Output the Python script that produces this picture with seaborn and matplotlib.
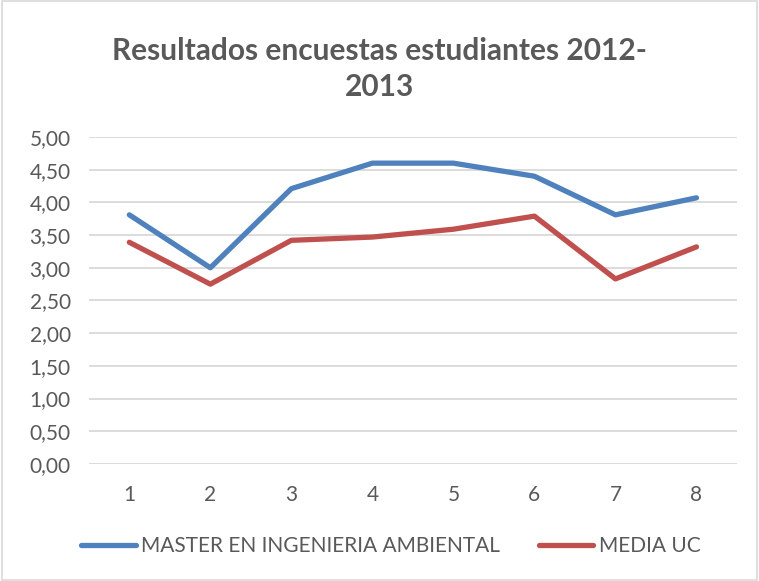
import matplotlib
matplotlib.use("Agg")
import matplotlib.pyplot as plt
import seaborn as sns
import pandas as pd
from matplotlib.lines import Line2D
from matplotlib.patches import Rectangle

categories = [1, 2, 3, 4, 5, 6, 7, 8]
master = [3.81, 3.00, 4.21, 4.60, 4.60, 4.40, 3.81, 4.07]
media_uc = [3.39, 2.75, 3.42, 3.47, 3.59, 3.79, 2.83, 3.32]
series_names = ["MASTER EN INGENIERIA AMBIENTAL", "MEDIA UC"]
y_ticks = [0.0, 0.5, 1.0, 1.5, 2.0, 2.5, 3.0, 3.5, 4.0, 4.5, 5.0]
title = "Resultados encuestas estudiantes 2012-\n2013"

sns.set_theme(style="white")
plt.rcParams["font.family"] = ["Lato", "DejaVu Sans"]

df = pd.DataFrame({
    "x": categories * 2,
    "y": master + media_uc,
    "serie": [series_names[0]] * len(categories) + [series_names[1]] * len(categories),
})

fig = plt.figure(figsize=(7.59, 5.81), dpi=100)
ax = fig.add_axes([0.117, 0.2014, 0.854, 0.5628])
palette = {series_names[0]: "#4F81BD", series_names[1]: "#C0504D"}
sns.lineplot(data=df, x="x", y="y", hue="serie", palette=palette, ax=ax,
             linewidth=3.8, legend=False, solid_capstyle="round", solid_joinstyle="round")

ax.set_xlim(0.5, 8.5)
ax.set_ylim(0, 5)
ax.set_yticks(y_ticks)
ax.set_yticklabels([f"{v:.2f}".replace(".", ",") for v in y_ticks])
ax.set_xticks(categories)
ax.set_xticklabels([str(c) for c in categories])
ax.tick_params(axis="both", labelsize=15, labelcolor="#595959", length=0)
ax.tick_params(axis="x", pad=15)
ax.tick_params(axis="y", pad=13)
ax.grid(axis="y", color="#D9D9D9", linewidth=1.3)
ax.set_axisbelow(True)
for s in ax.spines.values():
    s.set_visible(False)
ax.set_xlabel("")
ax.set_ylabel("")

fig.text(0.5, 0.881, title, ha="center", va="center", fontsize=21.5,
         fontweight="bold", color="#595959", linespacing=1.35)

handles = [Line2D([0], [0], color=palette[n], linewidth=3.8, solid_capstyle="round") for n in series_names]
fig.legend(handles, series_names, loc="center", bbox_to_anchor=(0.515, 0.06), ncol=2,
           frameon=False, fontsize=15, labelcolor="#595959", handlelength=2.6,
           handletextpad=0.25, columnspacing=1.9)

fig.add_artist(Rectangle((0.002, 0.002), 0.996, 0.996, transform=fig.transFigure,
                         fill=False, edgecolor="#D9D9D9", linewidth=1.2))

fig.savefig("out.png", dpi=100)
